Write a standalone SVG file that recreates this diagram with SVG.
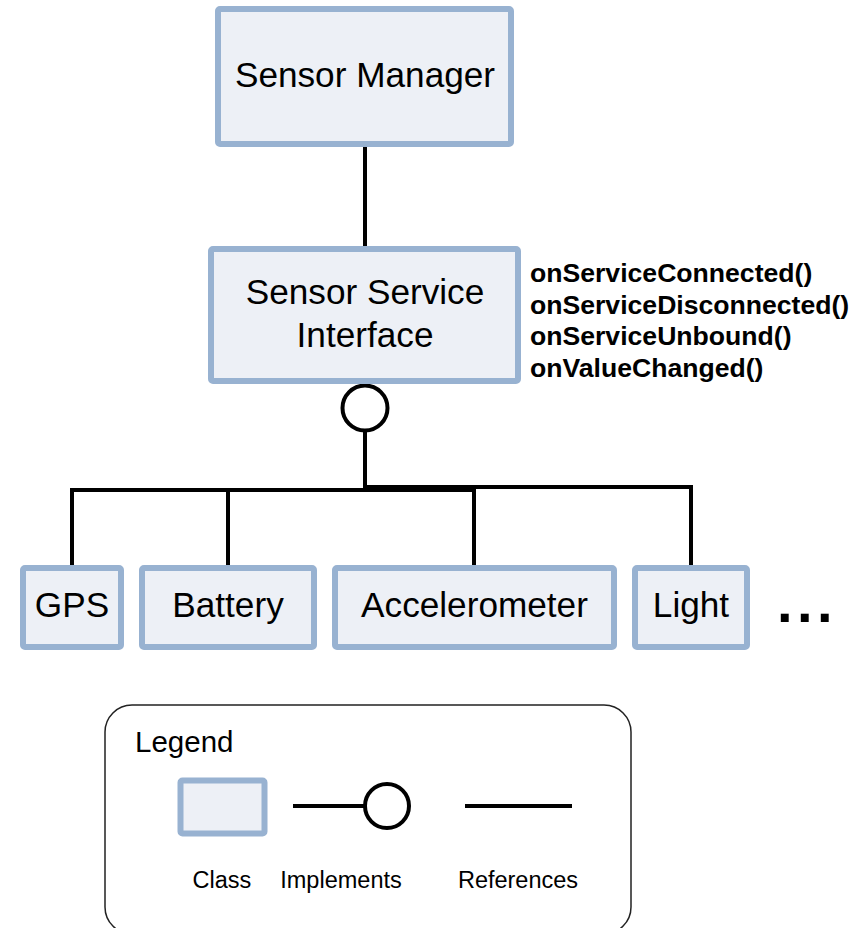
<svg xmlns="http://www.w3.org/2000/svg" width="867" height="928" viewBox="0 0 867 928">
<style>
.cls{fill:#EDF0F6;stroke:#98B2D1;stroke-width:6}
.t{font-family:"Liberation Sans",Arial,sans-serif;fill:#000}
.big{font-size:35.2px;text-anchor:middle}
.m{font-size:26.6px;font-weight:bold}
.lg{font-size:23.5px;text-anchor:middle}
.c{fill:none;stroke:#000;stroke-width:4}
</style>
<rect width="867" height="928" fill="#fff"/>
<g id="connectors">
<path class="c" d="M365,147 V246"/>
<path class="c" d="M365,431 V490 H72 V566"/>
<path class="c" d="M228,490 V566"/>
<path class="c" d="M365,490 H474 V566"/>
<path class="c" d="M365,487 H691 V566"/>
<circle cx="365" cy="408" r="22.5" fill="#fff" stroke="#000" stroke-width="4"/>
</g>
<g id="sensor-manager">
<rect class="cls" x="218" y="9" width="293" height="135" rx="2"/>
<text class="t big" x="365" y="87">Sensor Manager</text>
</g>
<g id="sensor-service-interface">
<rect class="cls" x="211" y="249" width="307" height="132" rx="2"/>
<text class="t big" x="365" y="304">Sensor Service</text>
<text class="t big" x="365" y="347">Interface</text>
</g>
<g id="methods">
<text class="t m" x="530" y="282">onServiceConnected()</text>
<text class="t m" x="530" y="313.5">onServiceDisconnected()</text>
<text class="t m" x="530" y="345">onServiceUnbound()</text>
<text class="t m" x="530" y="376.5">onValueChanged()</text>
</g>
<g id="gps">
<rect class="cls" x="23" y="568" width="98" height="79" rx="2"/>
<text class="t big" x="72" y="617">GPS</text>
</g>
<g id="battery">
<rect class="cls" x="142" y="568" width="172" height="79" rx="2"/>
<text class="t big" x="228" y="617">Battery</text>
</g>
<g id="accelerometer">
<rect class="cls" x="335" y="568" width="279" height="79" rx="2"/>
<text class="t big" x="474.5" y="617">Accelerometer</text>
</g>
<g id="light">
<rect class="cls" x="635" y="568" width="112" height="79" rx="2"/>
<text class="t big" x="691" y="617">Light</text>
</g>
<g id="ellipsis">
<text class="t" x="777" y="622" font-size="56" font-weight="bold" letter-spacing="4.5">...</text>
</g>
<g id="legend">
<rect x="105" y="705" width="526" height="229" rx="27" fill="none" stroke="#222" stroke-width="1.5"/>
<text class="t" x="135" y="752" font-size="29.5">Legend</text>
<rect class="cls" x="180.5" y="780.5" width="84" height="53" rx="2" stroke-width="5"/>
<path class="c" d="M293,806 H365"/>
<circle cx="387" cy="806" r="22" fill="#fff" stroke="#000" stroke-width="4"/>
<path class="c" d="M465,806 H572"/>
<text class="t lg" x="222" y="888">Class</text>
<text class="t lg" x="341" y="888">Implements</text>
<text class="t lg" x="518" y="888">References</text>
</g>
</svg>
